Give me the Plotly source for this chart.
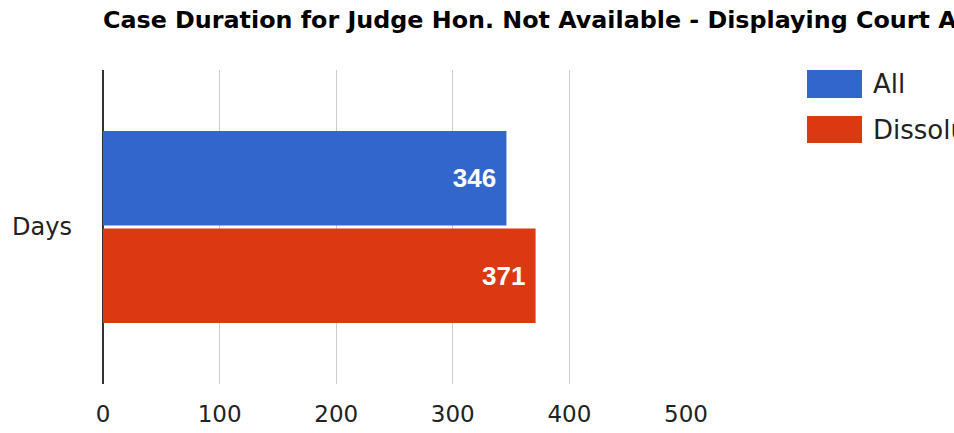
import plotly.graph_objects as go

# ---- data ----
categories = ["Days"]
series_names = ["All", "Dissolution"]
all_values = [346]
dissolution_values = [371]
x_tick_values = [0, 100, 200, 300, 400, 500]
title_text = "Case Duration for Judge Hon. Not Available - Displaying Court Averages"

colors = {"All": "#3366cc", "Dissolution": "#dc3912"}

W, H = 954, 433
L, R, T, B = 103, 268, 70, 49
PW, PH = W - L - R, H - T - B

def px_x(p):
    return (p - L) / PW

def px_y(p):
    return 1 - (p - T) / PH

SANS = "DejaVu Sans, sans-serif"
ARIAL = "Liberation Sans, Arial, sans-serif"

fig = go.Figure()
for name, vals in [("All", all_values), ("Dissolution", dissolution_values)]:
    fig.add_trace(go.Bar(
        y=categories, x=vals, name=name, orientation="h",
        marker=dict(color=colors[name], line=dict(width=0)),
        text=[f"{v}\u00a0" for v in vals],
        textposition="inside", insidetextanchor="end",
        textfont=dict(color="white", size=26, family=ARIAL, weight="bold"),
        showlegend=False,
    ))

# custom legend (swatches + labels)
shapes = []
annotations = []
legend_rows = [("All", 70, 98, 84), ("Dissolution", 116, 143, 130)]
for name, y0, y1, yt in legend_rows:
    shapes.append(dict(type="rect", xref="paper", yref="paper",
                       x0=px_x(807), x1=px_x(862), y0=px_y(y1), y1=px_y(y0),
                       fillcolor=colors[name], line=dict(width=0)))
    annotations.append(dict(text=name, xref="paper", yref="paper",
                            x=px_x(871), y=px_y(yt), xanchor="left", yanchor="middle",
                            showarrow=False, font=dict(size=26, color="#222", family=SANS)))

fig.update_layout(
    width=W, height=H,
    margin=dict(l=L, r=R, t=T, b=B, pad=0),
    paper_bgcolor="white", plot_bgcolor="white",
    barmode="group", bargap=0.38, bargroupgap=0.03,
    title=dict(text=title_text, x=0, xref="paper", xanchor="left",
               y=1 - 20 / H, yref="container", yanchor="middle",
               font=dict(size=23.8, color="#000", family=SANS, weight="bold")),
    xaxis=dict(range=[0, 500], tickvals=x_tick_values, showgrid=True,
               gridcolor="#cccccc", gridwidth=1, zeroline=True,
               zerolinecolor="#333333", zerolinewidth=1.5, showline=False,
               ticks="", ticklabelstandoff=14, automargin=False,
               tickfont=dict(size=23, color="#222", family=SANS), fixedrange=True),
    yaxis=dict(range=[0.5, -0.5], showgrid=False, zeroline=False, showline=False,
               ticks="", ticklabelstandoff=30, automargin=False,
               tickfont=dict(size=24, color="#222", family=SANS), fixedrange=True),
    shapes=shapes, annotations=annotations,
    font=dict(family=SANS),
)

fig.write_html("out.html", config={"displayModeBar": False},
               post_script="document.body.style.margin='0';")
